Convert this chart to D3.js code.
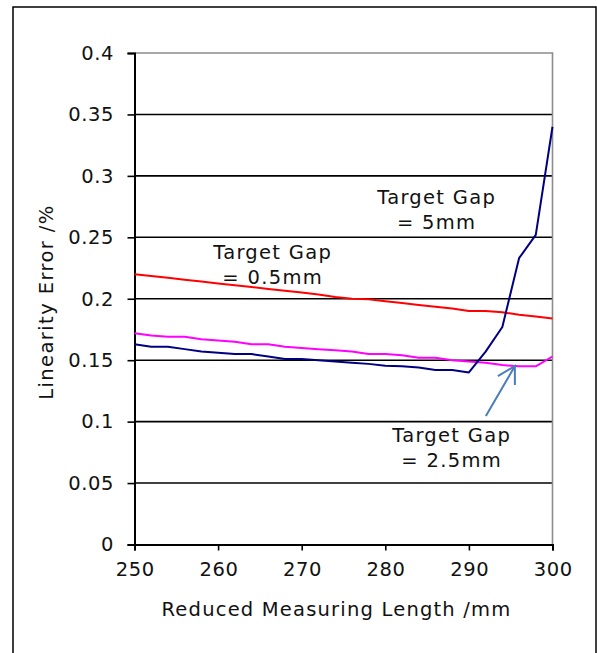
<!DOCTYPE html>
<html>
<head>
<meta charset="utf-8">
<script src="https://cdn.jsdelivr.net/npm/d3@7"></script>
<style>
  html, body { margin: 0; padding: 0; background: #fff; }
  svg { display: block; }
  text { font-family: "DejaVu Sans", Verdana, sans-serif; fill: #111; }
</style>
</head>
<body>
<svg id="chart" width="597" height="653"></svg>
<script>
// Reduced measuring length (mm)
const lengths = [250,252,254,256,258,260,262,264,266,268,270,272,274,276,278,280,282,284,286,288,290,292,294,296,298,300];

// Linearity error (%) per target gap
const gap05 = [0.220,0.2185,0.217,0.2155,0.214,0.2125,0.211,0.2095,0.208,0.2065,0.205,0.2035,0.2015,0.200,0.1995,0.198,0.1965,0.195,0.1935,0.192,0.190,0.190,0.189,0.187,0.1855,0.184];
const gap25 = [0.172,0.170,0.169,0.169,0.167,0.166,0.165,0.163,0.163,0.161,0.160,0.159,0.158,0.157,0.155,0.155,0.154,0.152,0.152,0.150,0.149,0.148,0.146,0.145,0.145,0.153];
const gap5  = [0.163,0.161,0.161,0.159,0.157,0.156,0.155,0.155,0.153,0.151,0.151,0.150,0.149,0.148,0.147,0.1455,0.145,0.144,0.142,0.142,0.140,0.157,0.177,0.233,0.252,0.340];

const xTicks = [250,260,270,280,290,300];
const yTicks = [0,0.05,0.1,0.15,0.2,0.25,0.3,0.35,0.4];
const yTickLabels = ["0","0.05","0.1","0.15","0.2","0.25","0.3","0.35","0.4"];

const svg = d3.select("#chart");

// outer chart frame
svg.append("rect")
  .attr("x", 13).attr("y", 7).attr("width", 583).attr("height", 660)
  .attr("fill", "none").attr("stroke", "#000").attr("stroke-width", 1.5);

const x = d3.scaleLinear().domain([250, 300]).range([134.5, 552.5]);
const y = d3.scaleLinear().domain([0, 0.4]).range([544.5, 53]);

// horizontal gridlines
svg.append("g").selectAll("line")
  .data(yTicks.filter(v => v > 0 && v < 0.4))
  .join("line")
  .attr("x1", x(250)).attr("x2", x(300))
  .attr("y1", d => y(d)).attr("y2", d => y(d))
  .attr("stroke", "#000").attr("stroke-width", 1.6);

// plot-area border (top and right)
svg.append("path")
  .attr("d", `M${x(250)},${y(0.4)}H${x(300)}V${y(0)}`)
  .attr("fill", "none").attr("stroke", "#8c8c8c").attr("stroke-width", 1.6);

// y axis
const yAxis = svg.append("g")
  .attr("transform", `translate(${x(250)},0)`)
  .call(d3.axisLeft(y).tickValues(yTicks)
    .tickFormat((d, i) => yTickLabels[i]).tickSize(7).tickPadding(14));
yAxis.select(".domain").attr("stroke", "#000").attr("stroke-width", 2);
yAxis.selectAll(".tick line").attr("stroke", "#000").attr("stroke-width", 1.6);
yAxis.selectAll(".tick text").attr("font-size", 19.5).attr("fill", "#111")
  .attr("letter-spacing", 0.6).attr("dx", 0.6)
  .attr("font-family", "DejaVu Sans, Verdana, sans-serif");

// x axis
const xAxis = svg.append("g")
  .attr("transform", `translate(0,${y(0)})`)
  .call(d3.axisBottom(x).tickValues(xTicks).tickSize(6).tickPadding(12));
xAxis.select(".domain").attr("stroke", "#000").attr("stroke-width", 2);
xAxis.selectAll(".tick line").attr("stroke", "#000").attr("stroke-width", 1.6);
xAxis.selectAll(".tick text").attr("font-size", 19.5).attr("fill", "#111")
  .attr("letter-spacing", 0.6).attr("dx", 0.3)
  .attr("font-family", "DejaVu Sans, Verdana, sans-serif");

// series lines
const line = d3.line().x(d => x(d[0])).y(d => y(d[1]));
const series = [
  { values: gap05, color: "#ff0000" },
  { values: gap25, color: "#ff00ff" },
  { values: gap5,  color: "#000080" }
];
svg.append("g").selectAll("path")
  .data(series)
  .join("path")
  .attr("d", s => line(lengths.map((l, i) => [l, s.values[i]])))
  .attr("fill", "none")
  .attr("stroke", s => s.color)
  .attr("stroke-width", 2)
  .attr("stroke-linejoin", "round");

// annotations
function label(cx, lines, baseline) {
  const t = svg.append("text").attr("text-anchor", "middle")
    .attr("font-size", 19.5).attr("letter-spacing", 1.3);
  lines.forEach((s, i) => {
    t.append("tspan").attr("x", cx + 0.65).attr("y", baseline + i * 25).text(s);
  });
}
label(272, ["Target Gap", "= 0.5mm"], 259);
label(436, ["Target Gap", "= 5mm"], 204);
label(451, ["Target Gap", "= 2.5mm"], 442);

// arrow pointing at the 2.5mm curve
const tipX = x(295.5), tipY = y(0.1452);
svg.append("path")
  .attr("d", `M${tipX - 29},${tipY + 50}L${tipX},${tipY}M${tipX - 17},${tipY + 10}L${tipX},${tipY}L${tipX},${tipY + 19}`)
  .attr("fill", "none").attr("stroke", "#4a7ebb").attr("stroke-width", 2)
  .attr("stroke-linejoin", "miter");

// axis titles
svg.append("text")
  .attr("x", 336.5).attr("y", 616)
  .attr("text-anchor", "middle").attr("font-size", 19.5).attr("letter-spacing", 1.2)
  .text("Reduced Measuring Length /mm");

svg.append("text")
  .attr("transform", "translate(53,302) rotate(-90)")
  .attr("text-anchor", "middle").attr("font-size", 19.5).attr("letter-spacing", 1.4)
  .text("Linearity Error /%");
</script>
</body>
</html>
